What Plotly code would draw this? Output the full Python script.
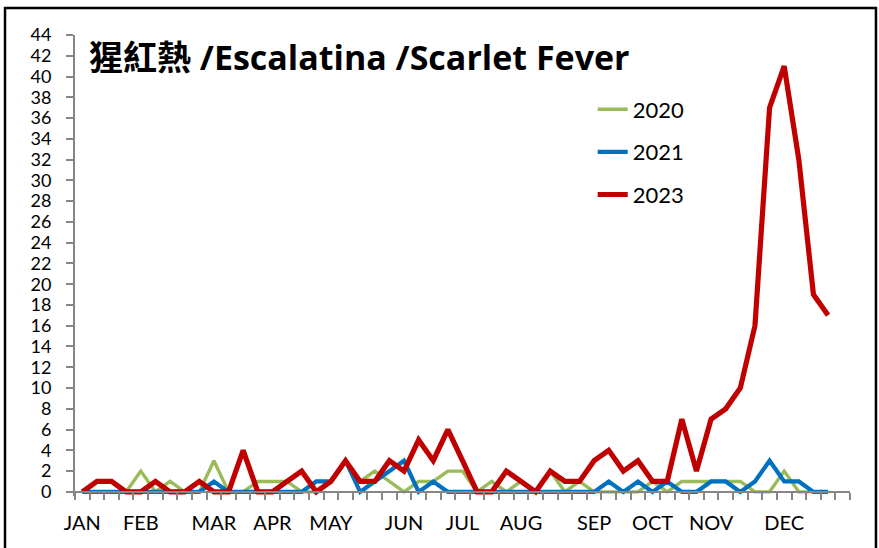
import plotly.graph_objects as go

weeks = list(range(1, 53))
month_labels = ["JAN", "FEB", "MAR", "APR", "MAY", "JUN", "JUL", "AUG", "SEP", "OCT", "NOV", "DEC"]
month_weeks = [1, 5, 10, 14, 18, 23, 27, 31, 36, 40, 44, 49]

y2020 = [0, 0, 0, 0, 2, 0, 1, 0, 0, 3, 0, 0, 1, 1, 1, 0, 0, 1, 3, 1, 2, 1, 0, 1, 1, 2,
         2, 0, 1, 0, 1, 0, 2, 0, 1, 0, 0, 0, 0, 1, 0, 1, 1, 1, 1, 1, 0, 0, 2, 0, 0, 0]
y2021 = [0, 0, 0, 0, 0, 0, 0, 0, 0, 1, 0, 0, 0, 0, 0, 0, 1, 1, 3, 0, 1, 2, 3, 0, 1, 0,
         0, 0, 0, 0, 0, 0, 0, 0, 0, 0, 1, 0, 1, 0, 1, 0, 0, 1, 1, 0, 1, 3, 1, 1, 0, 0]
y2023 = [0, 1, 1, 0, 0, 1, 0, 0, 1, 0, 0, 4, 0, 0, 1, 2, 0, 1, 3, 1, 1, 3, 2, 5, 3, 6,
         3, 0, 0, 2, 1, 0, 2, 1, 1, 3, 4, 2, 3, 1, 1, 7, 2, 7, 8, 10, 16, 37, 41, 32, 19, 17]

series = [("2020", y2020, "#9BBB59", 3.4),
          ("2021", y2021, "#0070C0", 4.2),
          ("2023", y2023, "#C00000", 5.2)]

font_main = "Lato, 'Noto Sans CJK TC', sans-serif"
font_title = "'Open Sans', 'Noto Sans CJK TC', sans-serif"

fig = go.Figure()
for name, vals, color, w in series:
    fig.add_trace(go.Scatter(
        x=weeks, y=vals, name=name, mode="lines",
        line=dict(color=color, width=w), legendgroup=name,
    ))

fig.update_layout(
    width=879, height=548,
    margin=dict(l=75, r=29, t=35, b=52),
    paper_bgcolor="white", plot_bgcolor="white",
    font=dict(family=font_main, size=20, color="black"),
    showlegend=True,
    legend=dict(x=0.668, y=0.884, xanchor="left", yanchor="top",
                font=dict(size=22, color="black"), tracegroupgap=11,
                bgcolor="rgba(0,0,0,0)"),
    xaxis=dict(
        range=[0.5, 53.5], tickmode="array", tickvals=month_weeks, ticktext=month_labels,
        ticks="", showgrid=False, zeroline=False,
        showline=True, linecolor="#868686", linewidth=2,
        anchor="free", position=0.4 / 44.4,
        ticklabelstandoff=13,
        tickfont=dict(size=20, color="black"),
        minor=dict(tickmode="linear", tick0=0.5, dtick=1, ticks="outside",
                   ticklen=7, tickwidth=2, tickcolor="#868686", showgrid=False),
    ),
    yaxis=dict(
        range=[-0.4, 44], tickmode="linear", tick0=0, dtick=2,
        ticks="outside", ticklen=7, tickwidth=2, tickcolor="#868686",
        showgrid=False, zeroline=False,
        showline=True, linecolor="#868686", linewidth=2,
        ticklabelstandoff=11,
        tickfont=dict(size=18, color="black"),
    ),
    shapes=[dict(type="rect", xref="paper", yref="paper",
                 x0=-0.0903, x1=1.0335, y0=-0.13, y1=1.0586,
                 line=dict(color="black", width=2.5), fillcolor="rgba(0,0,0,0)")],
    annotations=[dict(text="<b>猩紅熱 /Escalatina /Scarlet Fever</b>",
                      xref="paper", yref="paper", x=0.0155, y=0.953,
                      xanchor="left", yanchor="middle", showarrow=False,
                      font=dict(family=font_title, size=34, color="black"))],
)

fig.write_html("out.html", config={"displayModeBar": False},
               post_script="document.body.style.margin='0px';")
